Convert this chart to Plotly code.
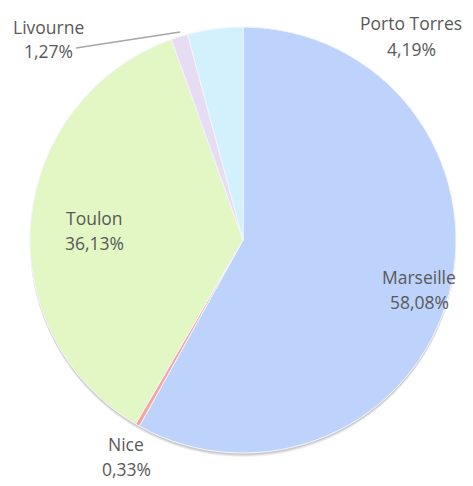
import plotly.graph_objects as go

ports = ["Marseille", "Nice", "Toulon", "Livourne", "Porto Torres"]
shares = [58.08, 0.33, 36.13, 1.27, 4.19]
colors = ["#bdd3fb", "#f5a3a3", "#e2f7c4", "#e6ddf5", "#d3f1fd"]

W, H = 473, 486
OFF = 8  # page body margin
cx, cy, R = 243 - OFF, 240 - OFF, 213

def px(x):
    return (x - OFF) / W

def py(y):
    return 1 - (y - OFF) / H

fig = go.Figure(go.Pie(
    labels=ports, values=shares, sort=False, direction="clockwise", rotation=0,
    marker=dict(colors=colors, line=dict(color="#f4f6fb", width=1)),
    textinfo="none", hoverinfo="label+percent", showlegend=False,
    domain=dict(x=[(cx - R) / W, (cx + R) / W], y=[(H - cy - R) / H, (H - cy + R) / H]),
))

def fmt(v):
    return f"{v:.2f}".replace(".", ",") + "%"

# label centres (page pixel coords)
label_pos = {
    "Marseille": (419, 289),
    "Nice": (126, 456),
    "Toulon": (94, 230),
    "Livourne": (48, 39),
    "Porto Torres": (411, 36),
}
font = dict(family="Open Sans, Liberation Sans", size=17.5, color="#595959")
anns = []
for p, v in zip(ports, shares):
    x, y = label_pos[p]
    for txt, dy in [(p, -12.5), (fmt(v), 12.5)]:
        anns.append(dict(x=px(x), y=py(y + dy), xref="paper", yref="paper",
                         text=txt, showarrow=False, font=font,
                         xanchor="center", yanchor="middle"))

shadow = []
for d, a in [(4, 0.05), (3, 0.07), (2, 0.09)]:
    shadow.append(dict(type="circle", xref="paper", yref="paper", layer="below",
                       x0=px(243 - R), x1=px(243 + R),
                       y0=py(240 + R + d), y1=py(240 - R + d),
                       fillcolor=f"rgba(0,0,0,{a})", line=dict(width=0)))

fig.update_layout(
    width=W, height=H, margin=dict(l=0, r=0, t=0, b=0),
    paper_bgcolor="white", plot_bgcolor="white",
    annotations=anns,
    shapes=shadow + [dict(type="line", xref="paper", yref="paper",
                          x0=px(76), y0=py(48), x1=px(180), y1=py(32),
                          line=dict(color="#a6a6a6", width=1.5))],
)
fig.write_html("out.html")
